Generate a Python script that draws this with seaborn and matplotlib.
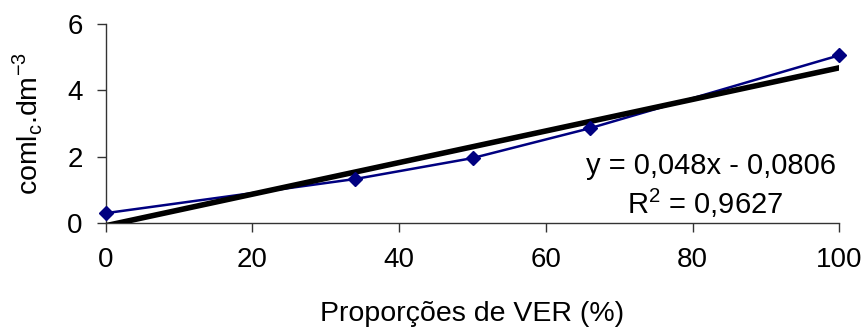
import matplotlib
matplotlib.use('Agg')
import matplotlib.pyplot as plt
import pandas as pd
import seaborn as sns

# proportions of VER (%) and measured values
proporcoes = [0, 34, 50, 66, 100]
valores = [0.30, 1.33, 1.96, 2.86, 5.06]

eq_text = 'y = 0,048x - 0,0806'
r2_text = r'R$^\mathregular{2}$ = 0,9627'

sns.set_style('ticks')
plt.rcParams['font.family'] = ['Liberation Sans', 'DejaVu Sans']
plt.rcParams['font.size'] = 20
plt.rcParams['text.color'] = 'black'
plt.rcParams['axes.labelcolor'] = 'black'
plt.rcParams['xtick.color'] = 'black'
plt.rcParams['ytick.color'] = 'black'

df = pd.DataFrame({'x': proporcoes, 'y': valores})

fig = plt.figure(figsize=(8.67, 3.35), dpi=100)
ax = fig.add_axes([0.122, 0.334, 0.846, 0.594])

sns.lineplot(data=df, x='x', y='y', ax=ax, color='#000080', lw=1.8, zorder=2)
sns.regplot(data=df, x='x', y='y', ax=ax, ci=None, scatter=False,
            line_kws={'color': 'black', 'lw': 4, 'zorder': 3})
ax.plot(df['x'], df['y'], ls='none', marker='D', ms=7, color='#000080',
        zorder=4, clip_on=False)

ax.set_xlim(0, 100)
ax.set_ylim(0, 6)
ax.set_xticks([0, 20, 40, 60, 80, 100])
ax.set_yticks([0, 2, 4, 6])
ax.tick_params(axis='both', labelsize=20, length=6.5, width=1, color='#333333')
ax.tick_params(axis='x', pad=11)
ax.tick_params(axis='y', pad=10)
for s in ['left', 'bottom']:
    ax.spines[s].set_color('#333333')
    ax.spines[s].set_linewidth(1)
sns.despine(ax=ax)

ax.set_xlabel('Proporções de VER (%)', fontsize=20.5, labelpad=20)
ax.set_ylabel(r'coml$_\mathregular{c}$.dm$^\mathregular{-3}$', fontsize=20.5,
              labelpad=16)

ax.text(99.5, 1.72, eq_text, ha='right', va='center', fontsize=21)
ax.text(81.7, 0.58, r2_text, ha='center', va='center', fontsize=21)

fig.savefig('out.png', dpi=100)
